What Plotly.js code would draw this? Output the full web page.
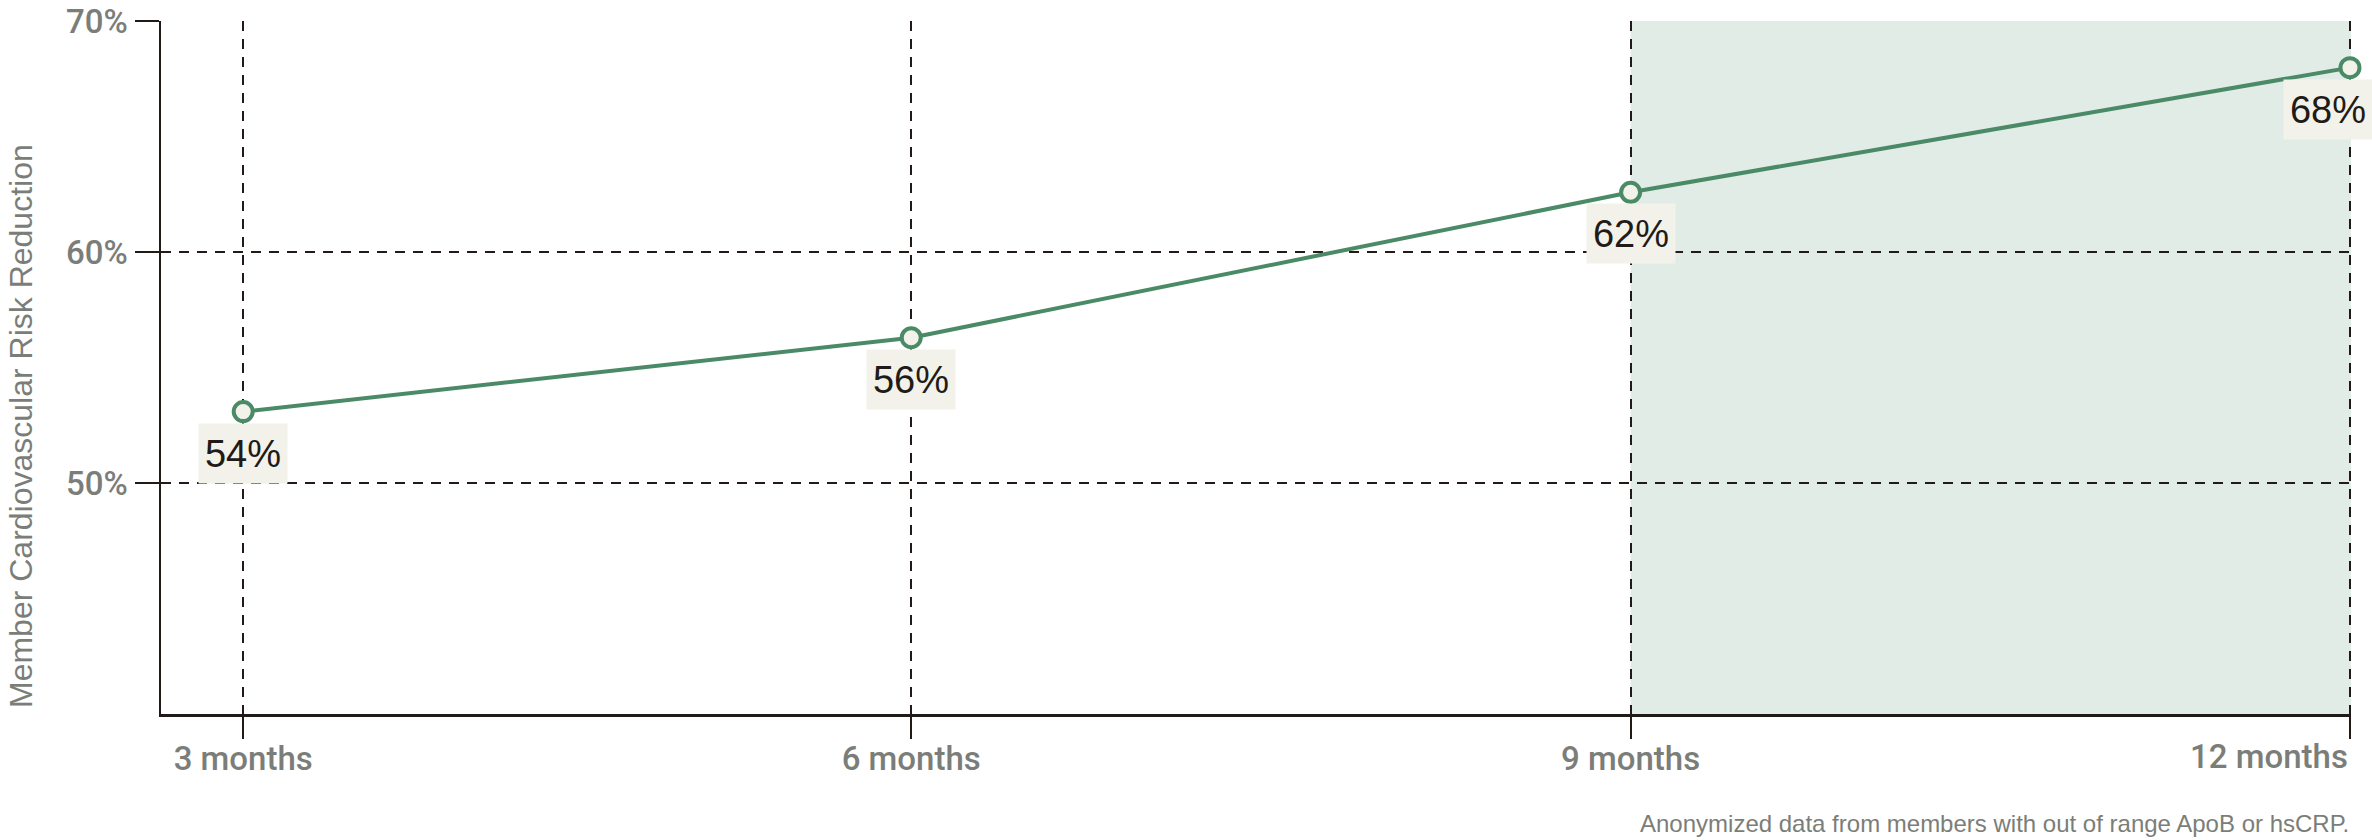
<!DOCTYPE html>
<html>
<head>
<meta charset="utf-8">
<script src="https://cdn.plot.ly/plotly-3.0.1.min.js"></script>
<style>
  html, body { margin: 0; padding: 0; background: #ffffff; }
  #chart { width: 2372px; height: 840px; }
</style>
</head>
<body>
<div id="chart"></div>
<script>
// ---- data ----
const periodLabels = ["3 months", "6 months", "9 months", "12 months"];
const weeks = [13, 26, 40, 54];
const riskReduction = [53.1, 56.3, 62.6, 68.0];
const valueLabels = ["54%", "56%", "62%", "68%"];
const yTickVals = [50, 60, 70];
const yTickText = ["50%", "60%", "70%"];
const highlightStart = 40;
const yAxisTitle = "Member Cardiovascular Risk Reduction";
const footnote = "Anonymized data from members with out of range ApoB or hsCRP.";

// ---- style ----
const green = "#4b8a66";
const ink = "#221a16";
const grey = "#7b7e78";
const labelBg = "#f2f2ea";
const shade = "#e2ece6";
const xRange = [11.4, 54.02];
const yRange = [40, 70.02];
const tickFont = { family: "Roboto, Liberation Sans, sans-serif", size: 33, color: grey, weight: 500 };

const last = weeks.length - 1;

const trace = {
  x: weeks,
  y: riskReduction,
  type: "scatter",
  mode: "lines+markers",
  line: { color: green, width: 4 },
  marker: { size: 19, color: labelBg, line: { color: green, width: 4 } },
  cliponaxis: false,
  hoverinfo: "skip"
};

const annotations = weeks.map((w, i) => ({
  x: w, y: riskReduction[i], xref: "x", yref: "y",
  text: valueLabels[i],
  showarrow: false,
  xanchor: "center", yanchor: "top",
  yshift: -11,
  xshift: i === last ? -22 : 0,
  width: 88, height: 59,
  bgcolor: labelBg,
  borderpad: 0,
  font: { family: "Liberation Sans, Arial, sans-serif", size: 38, color: ink }
}));

// last period label, right-aligned at its tick
annotations.push({
  x: weeks[last], xref: "x", yref: "paper", y: 0,
  xanchor: "right", yanchor: "top",
  yshift: -21,
  text: periodLabels[last],
  showarrow: false,
  font: tickFont
});

annotations.push({
  xref: "paper", yref: "paper", x: 0, y: 0,
  xshift: -140, yshift: 4,
  xanchor: "center", yanchor: "bottom",
  textangle: -90,
  text: yAxisTitle,
  showarrow: false,
  font: { family: "Liberation Sans, Arial, sans-serif", size: 32, color: grey }
});

annotations.push({
  xref: "paper", yref: "paper", x: 1, y: -0.158,
  xanchor: "right", yanchor: "middle",
  text: footnote,
  showarrow: false,
  font: { family: "Liberation Sans, Arial, sans-serif", size: 24, color: grey }
});

const layout = {
  width: 2372, height: 840, autosize: false,
  margin: { l: 161, r: 21, t: 21, b: 126, pad: 0 },
  paper_bgcolor: "#ffffff",
  plot_bgcolor: "#ffffff",
  showlegend: false,
  xaxis: {
    range: xRange,
    tickmode: "array", tickvals: weeks,
    ticktext: periodLabels.map((t, i) => (i === last ? " " : t)),
    showline: true, linecolor: ink, linewidth: 2.5,
    showgrid: true, gridcolor: ink, gridwidth: 2, griddash: "10px,8px",
    zeroline: false,
    ticks: "outside", ticklen: 22, tickwidth: 2, tickcolor: ink,
    ticklabelstandoff: -8,
    tickfont: tickFont,
    fixedrange: true
  },
  yaxis: {
    range: yRange,
    tickmode: "array", tickvals: yTickVals, ticktext: yTickText,
    showline: true, linecolor: ink, linewidth: 2.5,
    showgrid: true, gridcolor: ink, gridwidth: 2, griddash: "10px,8px",
    zeroline: false,
    ticks: "outside", ticklen: 24, tickwidth: 2, tickcolor: ink,
    tickfont: tickFont,
    fixedrange: true
  },
  shapes: [{
    type: "rect", layer: "below",
    xref: "x", yref: "paper",
    x0: highlightStart, x1: xRange[1], y0: 0, y1: 1,
    fillcolor: shade, line: { width: 0 }
  }],
  annotations: annotations
};

Plotly.newPlot("chart", [trace], layout, { staticPlot: true, displayModeBar: false });
</script>
</body>
</html>
